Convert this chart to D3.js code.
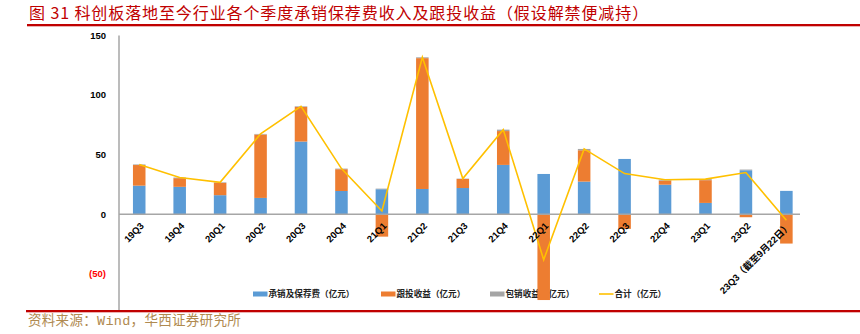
<!DOCTYPE html>
<html><head><meta charset="utf-8">
<script src="https://cdn.jsdelivr.net/npm/d3@7"></script>
<style>
html,body{margin:0;padding:0;background:#fff;}
svg{display:block;}
</style></head>
<body>
<svg id="chart" width="860" height="334"></svg>
<script>
// ---- data ----
const categories = ["19Q3","19Q4","20Q1","20Q2","20Q3","20Q4","21Q1","21Q2","21Q3","21Q4","22Q1","22Q2","22Q3","22Q4","23Q1","23Q2","23Q3（截至9月22日）"];
const underwritingFees = [24, 23, 16, 13.7, 61, 19.5, 21, 21.2, 22, 41.4, 33.8, 27.4, 46.4, 24.8, 9.5, 36.9, 19.6];
const coInvestGains   = [17.3, 7.3, 10.3, 53.2, 29.1, 18.3, -18.8, 109.8, 7.6, 28.4, -72, 26.3, -12.3, 3.4, 19.1, -2.5, -24.6];
const underwriteGains = [0.5, 0.5, 0.5, 0.5, 0.5, 0.5, 0.5, 0.7, 0.3, 1.2, 0, 1.1, 0, 0.8, 0.9, 0.6, 0];
const totals          = [41.7, 30.8, 26.8, 67.4, 90.6, 38.3, 2.7, 131.7, 29.9, 71.0, -38.2, 54.8, 34.1, 29.0, 29.5, 35.0, -5.0];
const yTicks = [150, 100, 50, 0, -50];
const seriesNames = ["承销及保荐费（亿元）","跟投收益（亿元）","包销收益（亿元）","合计（亿元）"];
const titleText = "图 31 科创板落地至今行业各个季度承销保荐费收入及跟投收益（假设解禁便减持）";
const sourceText = "资料来源：Wind，华西证券研究所";

// ---- layout ----
const colors = {blue:"#5B9BD5", orange:"#ED7D31", gray:"#A5A5A5", line:"#FFC000", red:"#C00000", axis:"#A6A6A6"};
const svg = d3.select("#chart");
const plot = {left:119, right:806.6, top:35.5, bottom:311};

const x = d3.scaleBand().domain(categories).range([plot.left, plot.right]).paddingInner(0.69).paddingOuter(0.345);
const y = d3.scaleLinear().domain([-81.2, 150]).range([plot.bottom, plot.top]);

// title
svg.append("text").attr("x", 29).attr("y", 19)
  .attr("font-family", "'Noto Sans CJK SC', sans-serif").attr("font-size", 16)
  .attr("letter-spacing", "0.9px").attr("fill", colors.red).text(titleText);
svg.append("rect").attr("x", 27).attr("y", 24).attr("width", 833).attr("height", 2.3).attr("fill", colors.red);

// legend (drawn first: the 22Q1 bar overlaps it in the reference)
const legendX = [253, 381, 490, 599];
const legendKeys = ["blue", "orange", "gray", "line"];
const lg = svg.append("g");
legendKeys.forEach((k, i) => {
  if (k === "line") {
    lg.append("line").attr("x1", legendX[i]).attr("x2", legendX[i] + 14.5).attr("y1", 294).attr("y2", 294)
      .attr("stroke", colors.line).attr("stroke-width", 1.6);
  } else {
    lg.append("rect").attr("x", legendX[i]).attr("y", 291.5).attr("width", 14.5).attr("height", 5).attr("fill", colors[k]);
  }
  lg.append("text").attr("x", legendX[i] + 15.5).attr("y", 294).attr("dy", "0.36em")
    .attr("font-family", "'Noto Sans CJK SC', sans-serif").attr("font-weight", "bold").attr("font-size", 8.6)
    .attr("fill", "#222").text(seriesNames[i]);
});

// stacked bars
const rows = categories.map((c, i) => {
  const b = underwritingFees[i], o = coInvestGains[i], g = underwriteGains[i];
  const segs = [];
  segs.push({key:"blue", y0:0, y1:b});
  let top = b;
  if (o >= 0) { segs.push({key:"orange", y0:top, y1:top + o}); top += o; }
  else { segs.push({key:"orange", y0:0, y1:o}); }
  segs.push({key:"gray", y0:top, y1:top + g});
  return {cat:c, segs};
});

const barG = svg.append("g");
rows.forEach(r => {
  r.segs.forEach(s => {
    if (s.y1 === s.y0) return;
    barG.append("rect")
      .attr("x", x(r.cat)).attr("width", x.bandwidth())
      .attr("y", y(Math.max(s.y0, s.y1)))
      .attr("height", Math.abs(y(s.y0) - y(s.y1)))
      .attr("fill", colors[s.key]);
  });
});

// axes lines
svg.append("line").attr("x1", plot.left).attr("x2", 800).attr("y1", y(0)).attr("y2", y(0))
  .attr("stroke", colors.axis).attr("stroke-width", 1.5);
svg.append("line").attr("x1", plot.left).attr("x2", plot.left).attr("y1", plot.top).attr("y2", plot.bottom)
  .attr("stroke", colors.axis).attr("stroke-width", 1.5);

// y tick labels
const fmt = v => v < 0 ? "(" + Math.abs(v) + ")" : String(v);
svg.append("g").selectAll("text").data(yTicks).join("text")
  .attr("x", 106).attr("y", d => y(d)).attr("dy", "0.35em")
  .attr("text-anchor", "end")
  .attr("font-family", "'Liberation Sans', Arial, sans-serif").attr("font-weight", "bold").attr("font-size", 9.5)
  .attr("fill", d => d < 0 ? "#FF0000" : "#000").text(fmt);

// line
const line = d3.line().x((d, i) => x(categories[i]) + x.bandwidth() / 2).y(d => y(d));
svg.append("path").attr("d", line(totals)).attr("fill", "none")
  .attr("stroke", colors.line).attr("stroke-width", 1.6).attr("stroke-linejoin", "miter");

// x labels (on top of bars)
svg.append("g").selectAll("text").data(categories).join("text")
  .attr("transform", d => `translate(${x(d) + x.bandwidth() / 2 + 3},${y(0) + 10}) rotate(-45)`)
  .attr("text-anchor", "end").attr("dy", "0.35em")
  .attr("font-family", "'Liberation Sans', Arial, 'Noto Sans CJK SC', sans-serif").attr("font-weight", "bold").attr("font-size", 9.5)
  .attr("fill", "#000").text(d => d);

// bottom rule + source
svg.append("rect").attr("x", 26).attr("y", 310).attr("width", 834).attr("height", 2.3).attr("fill", colors.red);
svg.append("text").attr("x", 28).attr("y", 324.5)
  .attr("font-family", "'Liberation Mono', 'Noto Sans CJK SC', monospace").attr("font-size", 13.5)
  .attr("letter-spacing", "0.3px").attr("fill", "#B08A50").text(sourceText);
</script>
</body></html>
